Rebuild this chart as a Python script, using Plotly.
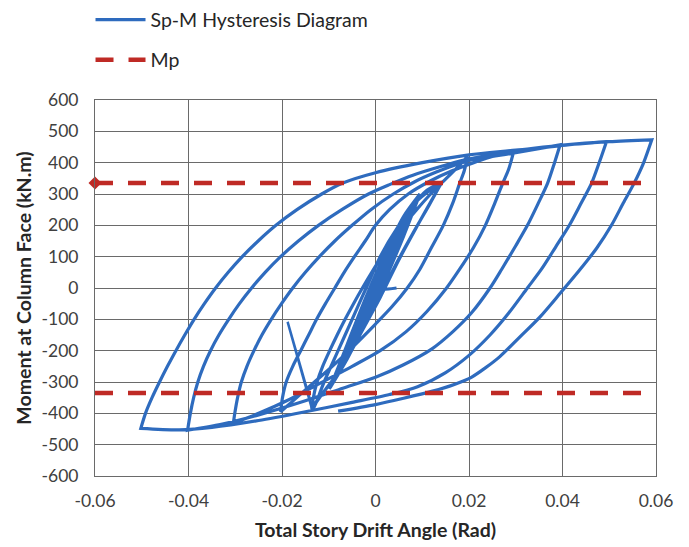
import plotly.graph_objects as go

# ---------------- data ----------------
MP = 335  # plastic moment, kN.m

x_ticks = [-0.06, -0.04, -0.02, 0, 0.02, 0.04, 0.06]
x_tick_labels = ["-0.06", "-0.04", "-0.02", "0", "0.02", "0.04", "0.06"]
y_ticks = [-600, -500, -400, -300, -200, -100, 0, 100, 200, 300, 400, 500, 600]
y_tick_labels = ["-600", "-500", "-400", "-300", "-200", "-100", "0", "100", "200",
                 "300", "400", "500", "600"]

# start of record
drift_start = [0.0045, 0.0, 0.002, 0.004]
moment_start = [0, 0, 65, 130]
# small elastic cycles
drift_l1 = [0.004, 0.002, 0.0, -0.002, -0.004]
moment_l1 = [130, 60, -12, -75, -130]
drift_u1 = [-0.004, -0.002, 0.0, 0.002, 0.004]
moment_u1 = [-130, -60, 12, 75, 130]
drift_l1b = [0.004, 0.002, 0.0, -0.002, -0.0042]
moment_l1b = [130, 55, -18, -80, -140]
drift_u1b = [-0.0042, -0.002, 0.0, 0.002, 0.004, 0.006]
moment_u1b = [-140, -55, 18, 80, 135, 195]
drift_l2 = [0.006, 0.003, 0.0, -0.003, -0.006]
moment_l2 = [195, 95, -22, -115, -195]
drift_u2 = [-0.006, -0.003, 0.0, 0.003, 0.006]
moment_u2 = [-195, -90, 22, 115, 195]
drift_l2b = [0.006, 0.003, 0.0, -0.003, -0.0062]
moment_l2b = [195, 85, -30, -122, -205]
drift_u2b = [-0.0062, -0.003, 0.0, 0.003, 0.006, 0.0078]
moment_u2b = [-205, -82, 30, 122, 195, 245]
drift_l3 = [0.0078, 0.004, 0.0, -0.004, -0.008]
moment_l3 = [245, 125, -26, -148, -255]
drift_u3 = [-0.008, -0.004, 0.0, 0.004, 0.0078]
moment_u3 = [-255, -122, 26, 152, 245]
drift_l3b = [0.0078, 0.004, 0.0, -0.004, -0.0082]
moment_l3b = [245, 115, -36, -155, -262]
drift_u3b = [-0.0082, -0.004, 0.0, 0.004, 0.008, 0.0095]
moment_u3b = [-262, -112, 36, 158, 252, 300]
drift_l4 = [0.0095, 0.006, 0.002, -0.002, -0.006, -0.0097]
moment_l4 = [300, 180, 45, -85, -210, -315]
drift_u4 = [-0.0097, -0.006, -0.002, 0.002, 0.006, 0.0095]
moment_u4 = [-315, -185, -40, 95, 215, 300]
drift_l4c = [0.0095, 0.006, 0.002, -0.002, -0.006, -0.0097]
moment_l4c = [300, 165, 25, -105, -225, -318]
drift_u4c = [-0.0097, -0.006, -0.002, 0.002, 0.006, 0.0095]
moment_u4c = [-318, -178, -28, 108, 228, 300]
drift_l4b = [0.0095, 0.006, 0.002, -0.002, -0.006, -0.0099]
moment_l4b = [300, 170, 35, -95, -218, -322]
drift_u4b = [-0.0099, -0.007, -0.004, 0.0, 0.004, 0.008, 0.011, 0.0142]
moment_u4b = [-322, -220, -105, 42, 170, 262, 312, 338]
# 0.015 rad cycles
drift_l5 = [0.0142, 0.012, 0.009, 0.005, 0.001, -0.003, -0.007, -0.0105, -0.0136]
moment_l5 = [338, 280, 200, 90, -30, -140, -250, -320, -385]
drift_u5 = [-0.0134, -0.011, -0.008, -0.005, -0.002, 0.001, 0.005, 0.009, 0.0142]
moment_u5 = [-388, -300, -200, -100, 0, 100, 200, 280, 338]
drift_l6 = [0.0142, 0.0115, 0.008, 0.004, 0.0, -0.004, -0.008, -0.011, -0.0136]
moment_l6 = [338, 265, 175, 65, -55, -165, -270, -330, -385]
# glitch spike near the -0.015 peak
drift_spike = [-0.0136, -0.0188, -0.0134]
moment_spike = [-385, -108, -388]
# 0.02 rad
drift_u6 = [-0.0136, -0.0133, -0.0125, -0.0113, -0.0098, -0.0082, -0.0065, -0.0047, -0.0028,
            -0.0008, 0.0013, 0.0036, 0.006, 0.0088, 0.0118, 0.0145, 0.0172, 0.0197]
moment_u6 = [-385, -350, -300, -250, -200, -150, -100, -50, 0, 50, 100, 150, 200, 250, 300,
             340, 380, 420]
drift_l7 = [0.0197, 0.019, 0.018, 0.0165, 0.0145, 0.012, 0.0095, 0.0068, 0.0035, 0.0, -0.005,
            -0.01, -0.015, -0.018, -0.0203]
moment_l7 = [420, 375, 334, 270, 200, 130, 60, 0, -60, -115, -190, -260, -325, -365, -395]
# 0.03 rad
drift_u8 = [-0.0203, -0.0199, -0.0191, -0.0177, -0.016, -0.0143, -0.0126, -0.0107, -0.0087,
            -0.0067, -0.0045, -0.0022, 0.0, 0.003, 0.007, 0.0115, 0.0165, 0.021, 0.025, 0.0295]
moment_u8 = [-395, -350, -300, -250, -200, -150, -100, -50, 0, 50, 100, 150, 200, 250, 300,
             340, 375, 400, 420, 432]
drift_l8 = [0.0295, 0.0285, 0.0272, 0.0255, 0.0235, 0.021, 0.018, 0.0152, 0.011, 0.0065, 0.001,
            -0.005, -0.012, -0.019, -0.025, -0.0304]
moment_l8 = [432, 380, 334, 270, 200, 130, 60, 0, -75, -140, -200, -250, -305, -360, -400, -431]
# 0.04 rad
drift_u9 = [-0.0304, -0.0301, -0.0295, -0.0287, -0.0275, -0.026, -0.0243, -0.0223, -0.0201,
            -0.0177, -0.015, -0.012, -0.0087, -0.005, -0.001, 0.0038, 0.0085, 0.013, 0.0175,
            0.021, 0.03, 0.0395]
moment_u9 = [-431, -400, -350, -300, -250, -200, -150, -100, -50, 0, 50, 100, 150, 200, 250,
             300, 340, 370, 395, 410, 432, 457]
drift_l9 = [0.0395, 0.0383, 0.0368, 0.0348, 0.0325, 0.030, 0.027, 0.0245, 0.0205, 0.0165, 0.012,
            0.006, 0.0, -0.007, -0.015, -0.025, -0.033, -0.0402]
moment_l9 = [457, 400, 334, 270, 200, 135, 60, 0, -80, -140, -195, -245, -285, -320, -360, -405,
             -435, -454]
# 0.05 rad
drift_u10 = [-0.0402, -0.0396, -0.0389, -0.038, -0.0368, -0.0353, -0.0335, -0.0314, -0.0291,
             -0.0265, -0.0236, -0.0203, -0.0165, -0.0122, -0.0072, -0.0015, 0.003, 0.008, 0.0145,
             0.02, 0.03, 0.04, 0.0494]
moment_u10 = [-454, -400, -350, -300, -250, -200, -150, -100, -50, 0, 50, 100, 150, 200, 250,
              300, 330, 360, 390, 412, 435, 455, 467]
drift_l10 = [0.0494, 0.0478, 0.0462, 0.044, 0.0415, 0.0385, 0.0355, 0.0325, 0.0285, 0.0245,
             0.020, 0.015, 0.009, 0.003, -0.005, -0.015, -0.025, -0.035, -0.042, -0.0502]
moment_l10 = [467, 398, 334, 271, 201, 130, 60, 0, -80, -150, -215, -270, -315, -340, -365,
              -395, -423, -445, -453, -448]
# 0.06 rad
drift_u11 = [-0.0502, -0.0492, -0.0478, -0.0462, -0.0445, -0.0427, -0.0408, -0.0388, -0.0366,
             -0.0342, -0.0315, -0.0285, -0.0251, -0.0213, -0.0168, -0.0115, -0.007, 0.0, 0.01,
             0.02, 0.03, 0.04, 0.05, 0.0591]
moment_u11 = [-448, -400, -350, -300, -250, -200, -150, -100, -50, 0, 50, 100, 150, 200, 250,
              300, 335, 368, 400, 425, 440, 456, 467, 473]
drift_l11 = [0.0591, 0.0573, 0.0553, 0.053, 0.0505, 0.0473, 0.0437, 0.0395, 0.0352, 0.0309,
             0.0266, 0.0235, 0.0205, 0.017, 0.012, 0.006, 0.0, -0.008]
moment_l11 = [473, 398, 334, 271, 201, 127, 58, -17, -92, -156, -219, -255, -285, -307, -330,
              -352, -372, -393]

mp_drift = [-0.06, 0.06]

# ---------------- assemble the path ----------------
drift_parts = [drift_start, drift_l1, drift_u1, drift_l1b, drift_u1b, drift_l2, drift_u2,
               drift_l2b, drift_u2b, drift_l3, drift_u3, drift_l3b, drift_u3b, drift_l4, drift_u4,
               drift_l4c, drift_u4c, drift_l4b, drift_u4b, drift_l5, drift_u5, drift_l6, drift_u6,
               drift_l7, drift_u8, drift_l8, drift_u9, drift_l9, drift_u10, drift_l10, drift_u11,
               drift_l11]
moment_parts = [moment_start, moment_l1, moment_u1, moment_l1b, moment_u1b, moment_l2, moment_u2,
                moment_l2b, moment_u2b, moment_l3, moment_u3, moment_l3b, moment_u3b, moment_l4,
                moment_u4, moment_l4c, moment_u4c, moment_l4b, moment_u4b, moment_l5, moment_u5,
                moment_l6, moment_u6, moment_l7, moment_u8, moment_l8, moment_u9, moment_l9,
                moment_u10, moment_l10, moment_u11, moment_l11]
path_x, path_y = [], []
for dx, my in zip(drift_parts, moment_parts):
    path_x += dx
    path_y += my

BLUE = "#2E6BBE"
RED = "#BF2A25"
FONT = "Lato"

fig = go.Figure()
fig.add_trace(go.Scatter(x=path_x, y=path_y, mode="lines",
                         line=dict(color=BLUE, width=3.2, shape="spline", smoothing=0.8),
                         name="Sp-M Hysteresis Diagram", legend="legend"))
fig.add_trace(go.Scatter(x=drift_spike, y=moment_spike, mode="lines",
                         line=dict(color=BLUE, width=2.5), showlegend=False, hoverinfo="skip"))
fig.add_trace(go.Scatter(x=mp_drift, y=[MP, MP], mode="lines",
                         line=dict(color=RED, width=4.5, dash="18px,15px"),
                         name="Mp", legend="legend2"))
fig.add_trace(go.Scatter(x=mp_drift, y=[-MP, -MP], mode="lines",
                         line=dict(color=RED, width=4.5, dash="18px,15px"),
                         showlegend=False))
fig.add_trace(go.Scatter(x=[mp_drift[0]], y=[MP], mode="markers",
                         marker=dict(color=RED, size=10, symbol="diamond"),
                         cliponaxis=False, showlegend=False))

axis_common = dict(showgrid=True, gridcolor="#6a6a6a", gridwidth=1, zeroline=False,
                   showline=True, linecolor="#6a6a6a", linewidth=1, mirror=True,
                   ticks="", tickfont=dict(family=FONT, size=17.5, color="#404040"))

fig.update_layout(
    width=689, height=547,
    margin=dict(l=95, r=33, t=100, b=71, autoexpand=False),
    paper_bgcolor="white", plot_bgcolor="white",
    font=dict(family=FONT, color="#262626"),
    xaxis=dict(range=[-0.06, 0.06], tickvals=x_ticks, ticktext=x_tick_labels,
               ticklabelstandoff=9,
               title=dict(text="<b>Total Story Drift Angle (Rad)</b>",
                          font=dict(family=FONT, size=19.5, color="#262626"), standoff=13),
               **axis_common),
    yaxis=dict(range=[-600, 600], tickvals=y_ticks, ticktext=y_tick_labels,
               ticklabelstandoff=12,
               title=dict(text="<b>Moment at Column Face (kN.m)</b>",
                          font=dict(family=FONT, size=19.5, color="#262626"), standoff=4),
               **axis_common),
    legend=dict(x=-0.008, xanchor="left", yref="container", y=0.9634, yanchor="middle",
                bgcolor="rgba(0,0,0,0)",
                font=dict(family=FONT, size=19.5, color="#262626"), itemwidth=50),
    legend2=dict(x=-0.008, xanchor="left", yref="container", y=0.8903, yanchor="middle",
                 bgcolor="rgba(0,0,0,0)",
                 font=dict(family=FONT, size=19.5, color="#262626"), itemwidth=50),
    showlegend=True,
)

fig.write_html("out.html")
